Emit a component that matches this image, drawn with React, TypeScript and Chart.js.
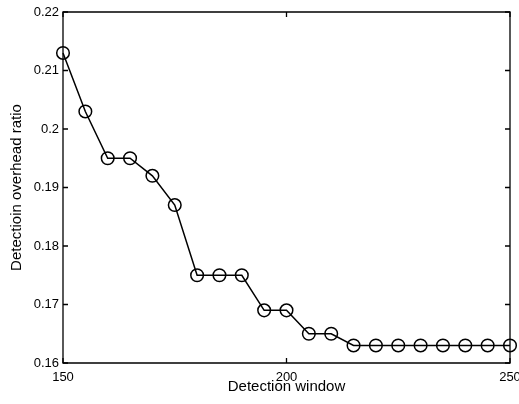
import React, { useEffect, useRef } from "react";
import { Chart, registerables } from "chart.js";

Chart.register(...registerables);

const windows = [150, 155, 160, 165, 170, 175, 180, 185, 190, 195, 200, 205, 210, 215, 220, 225, 230, 235, 240, 245, 250];
const overheadRatio = [0.213, 0.203, 0.195, 0.195, 0.192, 0.187, 0.175, 0.175, 0.175, 0.169, 0.169, 0.165, 0.165, 0.163, 0.163, 0.163, 0.163, 0.163, 0.163, 0.163, 0.163];
const xTicks = [150, 200, 250];
const yTicks = [0.16, 0.17, 0.18, 0.19, 0.2, 0.21, 0.22];

const FONT = "'Liberation Sans', Arial, Helvetica, sans-serif";

const boxPlugin = {
  id: "matlabBox",
  afterDraw(chart: any) {
    const { ctx, chartArea } = chart;
    const { left, right, top, bottom } = chartArea;
    const xs = chart.scales.x;
    const ys = chart.scales.y;
    const L = 5;
    ctx.save();
    ctx.strokeStyle = "#000";
    ctx.lineWidth = 1.3;
    ctx.beginPath();
    ctx.rect(left, top, right - left, bottom - top);
    ctx.stroke();
    ctx.beginPath();
    xTicks.forEach((v) => {
      const px = xs.getPixelForValue(v);
      ctx.moveTo(px, bottom);
      ctx.lineTo(px, bottom - L);
      ctx.moveTo(px, top);
      ctx.lineTo(px, top + L);
    });
    yTicks.forEach((v) => {
      const py = ys.getPixelForValue(v);
      ctx.moveTo(left, py);
      ctx.lineTo(left + L, py);
      ctx.moveTo(right, py);
      ctx.lineTo(right - L, py);
    });
    ctx.stroke();
    ctx.restore();
  },
};

export default function App() {
  const ref = useRef<HTMLCanvasElement>(null);
  useEffect(() => {
    const chart = new Chart(ref.current!, {
      type: "line",
      data: {
        datasets: [
          {
            data: windows.map((x, i) => ({ x, y: overheadRatio[i] })),
            borderColor: "#000",
            borderWidth: 1.5,
            pointStyle: "circle",
            pointRadius: 6.3,
            pointBorderWidth: 1.5,
            pointBorderColor: "#000",
            pointBackgroundColor: "rgba(0,0,0,0)",
            fill: false,
            tension: 0,
            clip: false as any,
          },
        ],
      },
      options: {
        animation: false,
        responsive: false,
        maintainAspectRatio: false,
        layout: { padding: { top: 12, right: 9, left: 0, bottom: 0 } },
        plugins: { legend: { display: false }, tooltip: { enabled: false } },
        scales: {
          x: {
            type: "linear",
            min: 150,
            max: 250,
            afterBuildTicks: (s: any) => {
              s.ticks = xTicks.map((v) => ({ value: v }));
            },
            afterFit: (s: any) => {
              s.height = 41;
              s.paddingLeft = 0;
              s.paddingRight = 0;
            },
            grid: { display: false, tickLength: 0 },
            border: { display: false },
            ticks: { color: "#000", font: { family: FONT, size: 13 }, padding: 7, maxRotation: 0, autoSkip: false },
            title: {
              display: true,
              text: "Detection window",
              color: "#000",
              font: { family: FONT, size: 15 },
              padding: { top: 0, bottom: 8 },
            },
          },
          y: {
            type: "linear",
            min: 0.16,
            max: 0.22,
            afterBuildTicks: (s: any) => {
              s.ticks = yTicks.map((v) => ({ value: v }));
            },
            afterFit: (s: any) => {
              s.width = 63;
              s.paddingTop = 0;
              s.paddingBottom = 0;
            },
            grid: { display: false, tickLength: 0 },
            border: { display: false },
            ticks: {
              color: "#000",
              font: { family: FONT, size: 13 },
              padding: 4,
              autoSkip: false,
              callback: (v: any) => String(+Number(v).toFixed(2)),
            },
            title: {
              display: true,
              text: "Detectioin overhead ratio",
              color: "#000",
              font: { family: FONT, size: 15 },
              padding: { top: 8, bottom: 0 },
            },
          },
        },
      },
      plugins: [boxPlugin],
    });
    return () => chart.destroy();
  }, []);
  return (
    <div style={{ position: "fixed", left: 0, top: 0, width: 519, height: 404, background: "#fff" }}>
      <canvas ref={ref} width={519} height={404} style={{ width: 519, height: 404 }} />
    </div>
  );
}
